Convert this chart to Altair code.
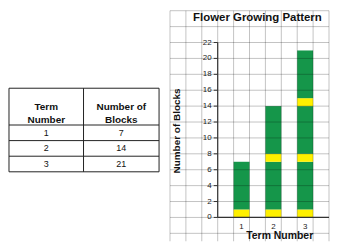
import altair as alt
import pandas as pd

# ---------------- data ----------------
terms = [1, 2, 3]
blocks = [7, 14, 21]
header_cols = ["Term\nNumber", "Number of\nBlocks"]

seg_term = [1, 1, 2, 2, 2, 2, 3, 3, 3, 3, 3, 3]
seg_start = [0, 1, 0, 1, 7, 8, 0, 1, 7, 8, 14, 15]
seg_end = [1, 7, 1, 7, 8, 14, 1, 7, 8, 14, 15, 21]
seg_part = ["flower", "stem", "flower", "stem", "flower", "stem",
            "flower", "stem", "flower", "stem", "flower", "stem"]

y_ticks = list(range(0, 23, 2))
chart_title = "Flower Growing Pattern"
x_title = "Term Number"
y_title = "Number of Blocks"

# ---------------- style / layout ----------------
FONT = "Liberation Sans"
GREEN = "#15964a"
YELLOW = "#fff000"
AXIS_C = "#333333"

W_TAB, W_CH, H = 154, 160, 234
X_MAX = 3.75
Y_MIN = -3
xs = alt.Scale(domain=[-1.25, X_MAX], nice=False, zero=False)
ys = alt.Scale(domain=[Y_MIN, 26.25], nice=False, zero=False)


def X(f):
    return alt.X(f, type="quantitative", scale=xs, axis=None)


def Y(f):
    return alt.Y(f, type="quantitative", scale=ys, axis=None)


seg_df = pd.DataFrame({"term": seg_term, "start": seg_start, "end": seg_end, "part": seg_part})
bars = alt.Chart(seg_df).transform_calculate(
    x0="datum.term - 0.25", x1="datum.term + 0.25"
).mark_rect().encode(
    x=X("x0"), x2="x1:Q", y=Y("start"), y2="end:Q",
    color=alt.Color("part:N", scale=alt.Scale(domain=["flower", "stem"], range=[YELLOW, GREEN]), legend=None),
)

grid_x = [-1.25 + 0.5 * k for k in range(11)]
grid_y = list(range(-2, 27, 2))
vgrid = alt.Chart(pd.DataFrame({"gx": grid_x})).transform_calculate(
    top="26", bot=str(Y_MIN)
).mark_rule(color="black", opacity=0.24, strokeWidth=1).encode(x=X("gx"), y=Y("top"), y2="bot:Q")
hgrid = alt.Chart(pd.DataFrame({"gy": grid_y})).transform_calculate(
    l="-1.25", r=str(X_MAX)
).mark_rule(color="black", opacity=0.24, strokeWidth=1).encode(y=Y("gy"), x=X("l"), x2="r:Q")

yaxis = alt.Chart(pd.DataFrame({"a": [0]})).transform_calculate(
    xx="0.25", y0="0", y1=str(max(y_ticks))
).mark_rule(color=AXIS_C, strokeWidth=1.2).encode(x=X("xx"), y=Y("y0"), y2="y1:Q")
xaxis = alt.Chart(pd.DataFrame({"a": [0]})).transform_calculate(
    x0="0.25", x1=str(X_MAX), yy="0"
).mark_rule(color=AXIS_C, strokeWidth=1.2).encode(y=Y("yy"), x=X("x0"), x2="x1:Q")

tick_df = pd.DataFrame({"v": y_ticks})
yticks = alt.Chart(tick_df).transform_calculate(
    x0="0.125", x1="0.25"
).mark_rule(color=AXIS_C, strokeWidth=1).encode(y=Y("v"), x=X("x0"), x2="x1:Q")
ylabels = alt.Chart(tick_df).transform_calculate(
    xx="0.06"
).mark_text(align="right", baseline="middle", font=FONT, fontSize=8, color="#222").encode(
    y=Y("v"), x=X("xx"), text="v:Q")

xlabels = alt.Chart(pd.DataFrame({"t": terms})).transform_calculate(
    yy="-1.15"
).mark_text(align="center", baseline="middle", font=FONT, fontSize=8, color="#222").encode(
    x=X("t"), y=Y("yy"), text="t:Q")

titles = pd.DataFrame({
    "txt": [chart_title, x_title],
    "tx": [1.5, 2.2],
    "ty": [25.125, -2.35],
    "fs": [11.5, 10.5],
})
title_marks = alt.Chart(titles).mark_text(
    align="center", baseline="middle", font=FONT, fontWeight="bold", color="#111"
).encode(x=X("tx"), y=Y("ty"), text="txt:N", size=alt.Size("fs:Q", scale=None, legend=None))
ytitle = alt.Chart(pd.DataFrame({"txt": [y_title]})).transform_calculate(
    tx="-1.03", ty="10.875"
).mark_text(align="center", baseline="middle", font=FONT, fontWeight="bold", fontSize=10,
            angle=270, color="#111").encode(x=X("tx"), y=Y("ty"), text="txt:N")

chart = alt.layer(bars, vgrid, hgrid, yaxis, xaxis, yticks, ylabels, xlabels, title_marks, ytitle).properties(
    width=W_CH, height=H)

# ---------------- table ----------------
tx_s = alt.Scale(domain=[0, W_TAB], nice=False, zero=False)
ty_s = alt.Scale(domain=[0, H], nice=False, zero=False, reverse=True)

T_LEFT, T_DIV, T_RIGHT = 1, 76, 152
T_TOP, T_HEAD = 80, 117
ROW_H = 15.7
row_lines = [T_TOP, T_HEAD] + [T_HEAD + ROW_H * (i + 1) for i in range(len(terms))]
t_bottom = row_lines[-1]


def TX(f):
    return alt.X(f, type="quantitative", scale=tx_s, axis=None)


def TY(f):
    return alt.Y(f, type="quantitative", scale=ty_s, axis=None)


hl = alt.Chart(pd.DataFrame({"yy": row_lines})).transform_calculate(
    l=str(T_LEFT), r=str(T_RIGHT)
).mark_rule(color="#222", strokeWidth=1).encode(y=TY("yy"), x=TX("l"), x2="r:Q")
vl = alt.Chart(pd.DataFrame({"xx": [T_LEFT, T_DIV, T_RIGHT]})).transform_calculate(
    t=str(T_TOP), b=str(t_bottom)
).mark_rule(color="#222", strokeWidth=1).encode(x=TX("xx"), y=TY("t"), y2="b:Q")

col_c = [(T_LEFT + T_DIV) / 2, (T_DIV + T_RIGHT) / 2]
head_df = pd.DataFrame({"txt": header_cols, "cx": col_c})
head = alt.Chart(head_df).transform_calculate(
    cy=str((T_TOP + T_HEAD) / 2)
).mark_text(align="center", baseline="middle", lineBreak="\n", lineHeight=13, font=FONT,
            fontWeight="bold", fontSize=10, color="#111").encode(x=TX("cx"), y=TY("cy"), text="txt:N")

rows = []
for i, (t, b) in enumerate(zip(terms, blocks)):
    cy = T_HEAD + ROW_H * (i + 0.5)
    rows.append({"txt": str(t), "cx": col_c[0], "cy": cy})
    rows.append({"txt": str(b), "cx": col_c[1], "cy": cy})
cells = alt.Chart(pd.DataFrame(rows)).mark_text(
    align="center", baseline="middle", font=FONT, fontSize=9, color="#111"
).encode(x=TX("cx"), y=TY("cy"), text="txt:N")

table = alt.layer(hl, vl, head, cells).properties(width=W_TAB, height=H)

final = alt.hconcat(table, chart, spacing=8).properties(padding=0).configure_view(stroke=None)
final.save("out.html", embed_options={"renderer": "svg", "actions": False})
